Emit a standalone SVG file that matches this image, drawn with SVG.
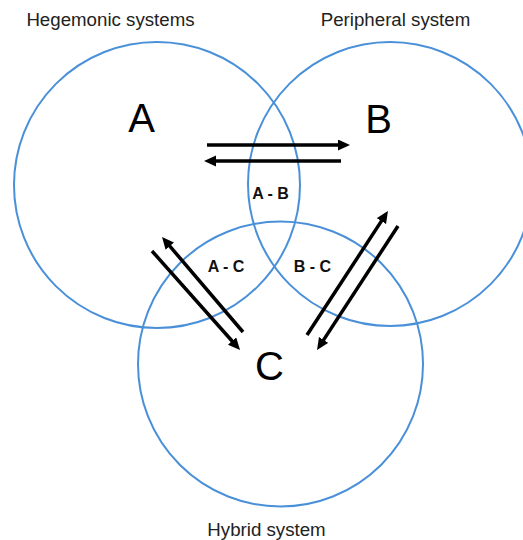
<svg xmlns="http://www.w3.org/2000/svg" width="523" height="540" viewBox="0 0 523 540">
<style>
.circ{fill:none;stroke:#4a90d9;stroke-width:2}
.title{font-family:"Liberation Sans",Arial,sans-serif;font-size:18.7px;fill:#222;text-anchor:middle}
.big{font-family:"Liberation Sans",Arial,sans-serif;font-size:40px;fill:#000;text-anchor:middle}
.pair{font-family:"Liberation Sans",Arial,sans-serif;font-size:16px;font-weight:bold;fill:#111;text-anchor:middle}
.arr{stroke:#000;stroke-width:3.5;fill:none;marker-end:url(#head)}
</style>
<defs>
<marker id="head" markerUnits="userSpaceOnUse" markerWidth="14" markerHeight="12" refX="2" refY="5.5" orient="auto">
<path d="M0,0 L12,5.5 L0,11 Z" fill="#000"/>
</marker>
</defs>
<rect width="523" height="540" fill="#fff"/>
<g id="node-A">
<circle class="circ" cx="157" cy="185" r="143"/>
<text class="big" x="141.5" y="132">A</text>
<text class="title" x="110.5" y="26">Hegemonic systems</text>
</g>
<g id="node-B">
<circle class="circ" cx="390" cy="184" r="142"/>
<text class="big" x="378.5" y="133">B</text>
<text class="title" x="395.5" y="26">Peripheral system</text>
</g>
<g id="node-C">
<circle class="circ" cx="280.5" cy="364" r="142.5"/>
<text class="big" x="269.5" y="380">C</text>
<text class="title" x="266.5" y="536">Hybrid system</text>
</g>
<g id="overlap-labels">
<text class="pair" x="270.5" y="198.5">A - B</text>
<text class="pair" x="226" y="271.5">A - C</text>
<text class="pair" x="312.5" y="271.5">B - C</text>
</g>
<g id="connectors">
<line class="arr" x1="207" y1="145" x2="340" y2="145"/>
<line class="arr" x1="341" y1="161" x2="214" y2="161"/>
<line class="arr" x1="243" y1="332" x2="168.5" y2="244.6"/>
<line class="arr" x1="152" y1="251" x2="233.4" y2="342.5"/>
<line class="arr" x1="307" y1="335" x2="382.5" y2="219.4"/>
<line class="arr" x1="398" y1="226" x2="322.5" y2="341.6"/>
</g>
</svg>
